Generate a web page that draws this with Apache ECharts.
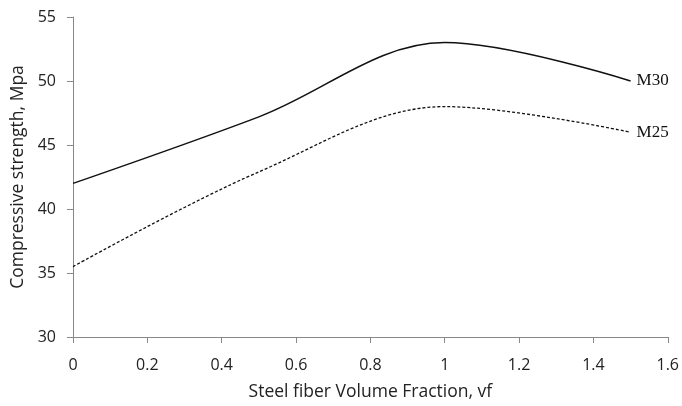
<!DOCTYPE html>
<html>
<head>
<meta charset="utf-8">
<script src="https://cdn.jsdelivr.net/npm/echarts@6/dist/echarts.min.js"></script>
<style>
html,body{margin:0;padding:0;background:#fff;}
#main{width:682px;height:406px;}
</style>
</head>
<body>
<div id="main"></div>
<script>
// volume fraction of steel fibre, %
var vf = [0, 0.5, 1.0, 1.5];
// compressive strength, MPa
var m30 = [42, 47.2, 53, 50];
var m25 = [35.5, 42.9, 48, 46];
var xTicks = [0, 0.2, 0.4, 0.6, 0.8, 1, 1.2, 1.4, 1.6];
var yTicks = [30, 35, 40, 45, 50, 55];

function pairs(xs, ys) {
    var out = [];
    for (let i = 0; i < xs.length; i++) out.push([xs[i], ys[i]]);
    return out;
}

var chart = echarts.init(document.getElementById('main'));
var axisFont = '"Open Sans", Lato, sans-serif';
var option = {
    animation: false,
    grid: { left: 73, right: 13, top: 17, bottom: 68 },
    xAxis: {
        type: 'value',
        min: xTicks[0],
        max: xTicks[xTicks.length - 1],
        interval: 0.2,
        name: 'Steel fiber Volume Fraction, vf',
        nameLocation: 'middle',
        nameGap: 46,
        nameTextStyle: { fontFamily: axisFont, fontSize: 17.5, color: '#222' },
        axisLine: { lineStyle: { color: '#888', width: 1 } },
        axisTick: { show: true, length: 6, lineStyle: { color: '#888' } },
        axisLabel: { fontFamily: axisFont, fontSize: 16, color: '#222', margin: 20 },
        splitLine: { show: false }
    },
    yAxis: {
        type: 'value',
        min: yTicks[0],
        max: yTicks[yTicks.length - 1],
        interval: 5,
        name: 'Compressive strength, Mpa',
        nameLocation: 'middle',
        nameGap: 46,
        nameTextStyle: { fontFamily: axisFont, fontSize: 17.5, color: '#222' },
        axisLine: { show: true, lineStyle: { color: '#888', width: 1 } },
        axisTick: { show: true, length: 6, lineStyle: { color: '#888' } },
        axisLabel: { fontFamily: axisFont, fontSize: 16, color: '#222', margin: 17 },
        splitLine: { show: false }
    },
    series: [
        {
            name: 'M30',
            type: 'line',
            smooth: 0.35,
            symbol: 'none',
            data: pairs(vf, m30),
            lineStyle: { color: '#111', width: 1.5 },
            endLabel: {
                show: true,
                formatter: 'M30',
                fontFamily: '"Liberation Serif", serif',
                fontSize: 17,
                color: '#111',
                distance: 6
            }
        },
        {
            name: 'M25',
            type: 'line',
            smooth: 0.35,
            symbol: 'none',
            data: pairs(vf, m25),
            lineStyle: { color: '#111', width: 1.3, type: [3, 2] },
            endLabel: {
                show: true,
                formatter: 'M25',
                fontFamily: '"Liberation Serif", serif',
                fontSize: 17,
                color: '#111',
                distance: 6
            }
        }
    ]
};
chart.setOption(option);
</script>
</body>
</html>
